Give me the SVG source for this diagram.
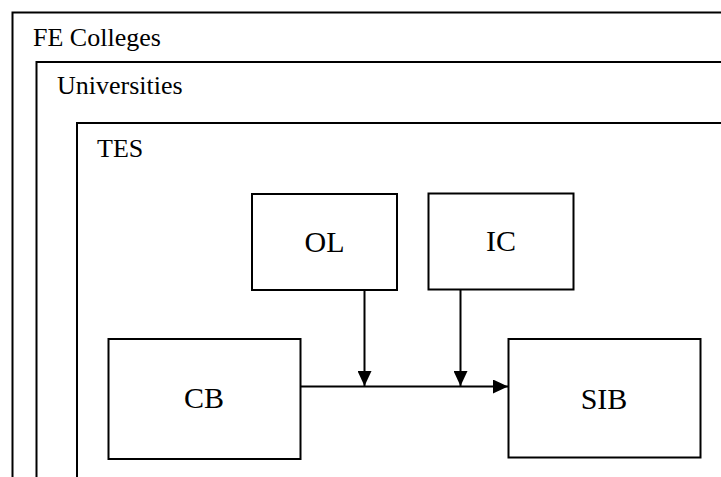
<svg xmlns="http://www.w3.org/2000/svg" width="721" height="477" viewBox="0 0 721 477">
  <style>
    .frame { fill: none; stroke: #000; stroke-width: 2; }
    .box { fill: #fff; stroke: #000; stroke-width: 2; }
    .edge { fill: none; stroke: #000; stroke-width: 2; }
    .title { font-size: 26px; }
    .label { font-size: 30px; text-anchor: middle; }
  </style>
  <defs>
    <marker id="arrow" viewBox="0 0 15 14" refX="15" refY="7" markerWidth="15" markerHeight="14" markerUnits="userSpaceOnUse" orient="auto">
      <path d="M0,0 L15,7 L0,14 Z" fill="#000"/>
    </marker>
  </defs>
  <rect width="721" height="477" fill="#fff"/>

  <g font-family="Liberation Serif, DejaVu Serif, serif" fill="#000">
    <!-- nested scopes, running off the right and bottom edges -->
    <g id="fe-colleges">
      <rect class="frame" x="12.5" y="12.5" width="760" height="500"/>
      <text class="title" x="33" y="46">FE Colleges</text>
    </g>
    <g id="universities">
      <rect class="frame" x="36.5" y="62" width="740" height="450"/>
      <text class="title" x="57" y="94">Universities</text>
    </g>
    <g id="tes">
      <rect class="frame" x="77" y="123" width="700" height="400"/>
      <text class="title" x="97" y="157">TES</text>
    </g>

    <!-- components -->
    <g id="ol">
      <rect class="box" x="252" y="194" width="145" height="96"/>
      <text class="label" x="324.5" y="252">OL</text>
    </g>
    <g id="ic">
      <rect class="box" x="428.5" y="193.5" width="145" height="96"/>
      <text class="label" x="501" y="251">IC</text>
    </g>
    <g id="cb">
      <rect class="box" x="108.5" y="339" width="192" height="120"/>
      <text class="label" x="204" y="407.5">CB</text>
    </g>
    <g id="sib">
      <rect class="box" x="508.5" y="339" width="192" height="118.5"/>
      <text class="label" x="604" y="408.5">SIB</text>
    </g>
  </g>

  <!-- connectors -->
  <g id="connectors">
    <line class="edge" x1="300.5" y1="386.5" x2="508" y2="386.5" marker-end="url(#arrow)"/>
    <line class="edge" x1="364.5" y1="290" x2="364.5" y2="386" marker-end="url(#arrow)"/>
    <line class="edge" x1="460.5" y1="289.5" x2="460.5" y2="386" marker-end="url(#arrow)"/>
  </g>
</svg>
